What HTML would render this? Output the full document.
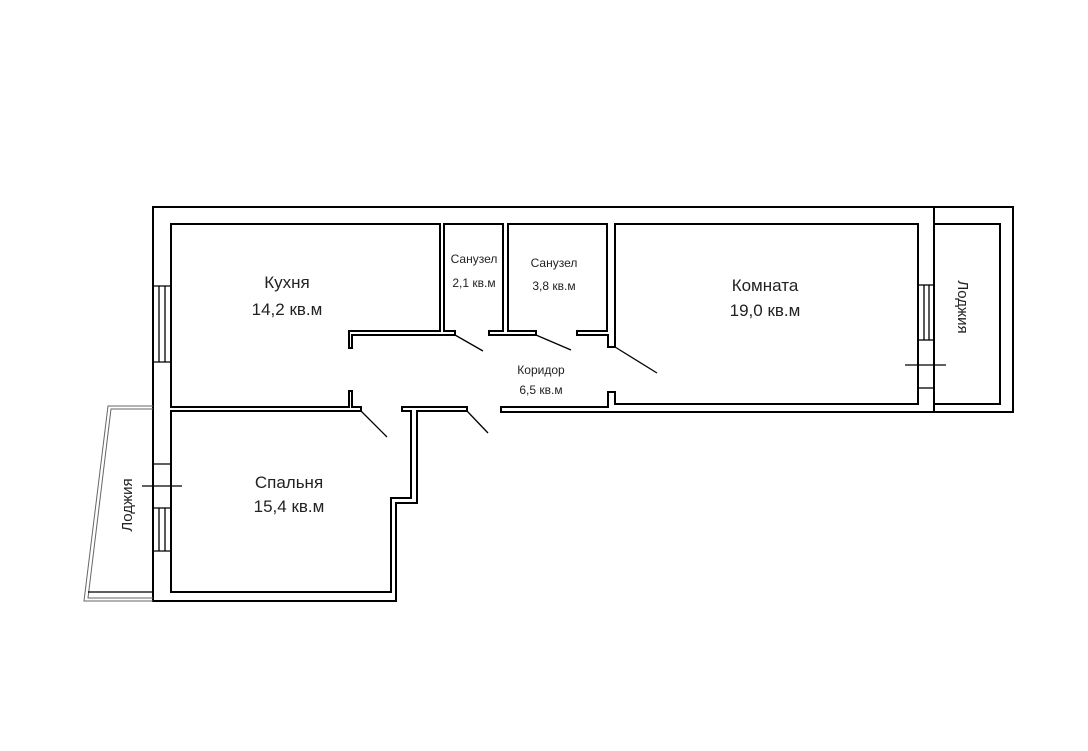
<!DOCTYPE html>
<html><head><meta charset="utf-8"><style>
html,body{margin:0;padding:0;background:#fff;}
svg{display:block;}
text{font-family:"Liberation Sans",sans-serif;fill:#222;}
</style></head><body>
<svg width="1088" height="751" viewBox="0 0 1088 751" xmlns="http://www.w3.org/2000/svg">
<rect width="1088" height="751" fill="#fff"/>
<g fill="none" stroke="#000" stroke-width="2" stroke-linejoin="miter">
<!-- outer -->
<path d="M501,412 L1013,412 L1013,207 L153,207 L153,601 L396,601 L396,503 L417,503 L417,411 L467,411 L467,407 L402,407 L402,411 L411,411 L411,498 L391,498 L391,592 L171,592 L171,411 L361,411 L361,407 L352,407 L352,391 L349,391 L349,407 L171,407 L171,224 L440,224 L440,331 L349,331 L349,348 L352,348 L352,335 L455,335 L455,331 L444,331 L444,224 L503,224 L503,331 L489,331 L489,335 L536,335 L536,331 L508,331 L508,224 L607,224 L607,331 L577,331 L577,335 L608,335 L608,347 L615,347 L615,224 L918,224 L918,404 L615,404 L615,392 L608,392 L608,407 L501,407 Z"/>
<!-- loggia right -->
<line x1="934" y1="207" x2="934" y2="412"/>
<rect x="934" y="224" width="66" height="180"/>
<!-- doors -->
<line x1="455" y1="335" x2="483" y2="351" stroke-width="1.3"/>
<line x1="536" y1="335" x2="571" y2="350" stroke-width="1.3"/>
<line x1="615" y1="347" x2="657" y2="373" stroke-width="1.3"/>
<line x1="361" y1="411" x2="387" y2="437" stroke-width="1.3"/>
<line x1="467" y1="411" x2="488" y2="433" stroke-width="1.3"/>
</g>
<g stroke="#000" stroke-width="1.3" fill="none">
<!-- kitchen window -->
<line x1="153" y1="286" x2="171" y2="286"/><line x1="153" y1="362" x2="171" y2="362"/>
<line x1="159" y1="286" x2="159" y2="362"/><line x1="165" y1="286" x2="165" y2="362"/>
<!-- bedroom window -->
<line x1="153" y1="464" x2="171" y2="464"/><line x1="153" y1="508" x2="171" y2="508"/>
<line x1="153" y1="551" x2="171" y2="551"/>
<line x1="159" y1="508" x2="159" y2="551"/><line x1="165" y1="508" x2="165" y2="551"/>
<line x1="142" y1="486" x2="182" y2="486"/>
<!-- right window -->
<line x1="918" y1="285" x2="934" y2="285"/><line x1="918" y1="340" x2="934" y2="340"/>
<line x1="924" y1="285" x2="924" y2="340"/><line x1="929" y1="285" x2="929" y2="340"/>
<line x1="918" y1="388" x2="934" y2="388"/>
<line x1="905" y1="365" x2="946" y2="365"/>
</g>
<!-- left loggia -->
<g stroke="#666" stroke-width="1" fill="none">
<path d="M153,406 L108,406 L84,601 L153,601"/>
<path d="M153,409 L111,409 L88,598 L153,598"/>
</g>
<line x1="153" y1="592" x2="88" y2="592" stroke="#000" stroke-width="1.3"/>
<g text-anchor="middle">
<text x="287" y="288" font-size="17">Кухня</text>
<text x="287" y="315" font-size="17">14,2 кв.м</text>
<text x="474" y="263" font-size="12">Санузел</text>
<text x="474" y="287" font-size="12">2,1 кв.м</text>
<text x="554" y="267" font-size="12">Санузел</text>
<text x="554" y="290" font-size="12">3,8 кв.м</text>
<text x="541" y="374" font-size="12">Коридор</text>
<text x="541" y="394" font-size="12">6,5 кв.м</text>
<text x="765" y="291" font-size="17">Комната</text>
<text x="765" y="316" font-size="17">19,0 кв.м</text>
<text x="289" y="488" font-size="17">Спальня</text>
<text x="289" y="512" font-size="17">15,4 кв.м</text>
<text transform="translate(132,505) rotate(-90)" font-size="15">Лоджия</text>
<text transform="translate(958,307) rotate(90)" font-size="15">Лоджия</text>
</g>
</svg>
</body></html>
